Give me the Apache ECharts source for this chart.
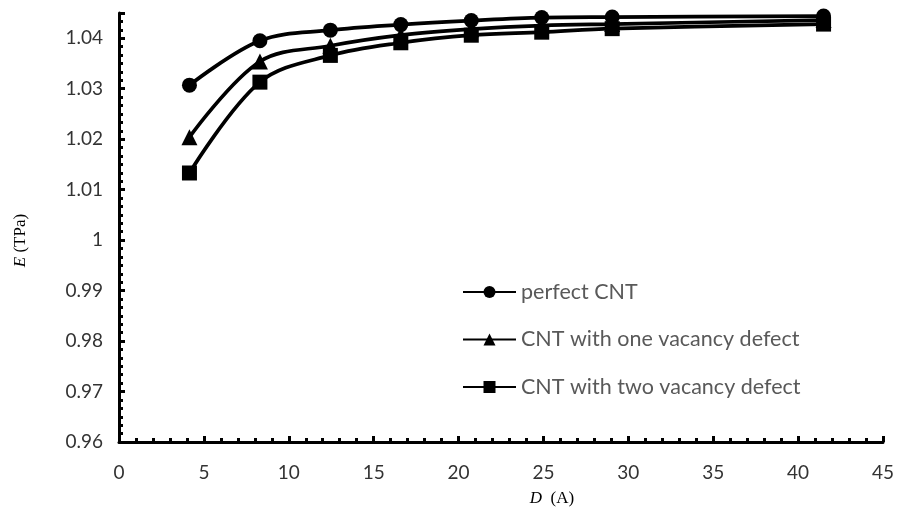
<!DOCTYPE html>
<html>
<head>
<meta charset="utf-8">
<script src="https://cdn.jsdelivr.net/npm/echarts@6/dist/echarts.min.js"></script>
<style>html,body{margin:0;padding:0;background:#fff}#c{width:897px;height:512px}</style>
</head>
<body>
<div id="c"></div>
<script>
// Data
const diameters = [4.15, 8.3, 12.45, 16.6, 20.75, 24.9, 29.05, 41.5];
const perfectCNT = [1.0307, 1.0395, 1.0416, 1.0427, 1.0435, 1.0441, 1.0442, 1.0444];
const oneVacancy = [1.0204, 1.0354, 1.0385, 1.0406, 1.0418, 1.0425, 1.0428, 1.0436];
const twoVacancy = [1.0133, 1.0313, 1.0366, 1.0391, 1.0406, 1.0412, 1.0419, 1.0428];
const seriesNames = ['perfect CNT', 'CNT with one vacancy defect', 'CNT with two vacancy defect'];
const seriesSymbols = ['circle', 'triangle', 'rect'];
const seriesValues = [perfectCNT, oneVacancy, twoVacancy];

const chart = echarts.init(document.getElementById('c'), null, {renderer: 'canvas'});
const font = 'Lato, "Open Sans", sans-serif';
const serif = '"Liberation Serif", "DejaVu Serif", serif';

const series = seriesNames.map((name, k) => ({
  name: name,
  type: 'line',
  smooth: 0.35,
  symbol: seriesSymbols[k],
  symbolSize: k === 1 ? 16 : 15,
  showAllSymbol: true,
  lineStyle: {color: '#000', width: 3.7},
  itemStyle: {color: '#000', borderWidth: 0},
  emphasis: {disabled: true},
  data: diameters.map((d, i) => [d, seriesValues[k][i]])
}));

chart.setOption({
  animation: false,
  backgroundColor: '#fff',
  grid: {left: 119, right: 12, top: 13, bottom: 66},
  legend: {
    orient: 'vertical',
    left: 462,
    top: 281,
    padding: 0,
    itemWidth: 53,
    itemHeight: 15,
    itemGap: 25.5,
    textStyle: {fontFamily: font, fontSize: 21.5, color: '#595959', lineHeight: 22},
    data: seriesNames
  },
  xAxis: {
    type: 'value',
    min: 0, max: 45, interval: 5,
    name: '{i|D}  (A)',
    nameLocation: 'middle',
    nameGap: 48,
    nameTextStyle: {
      fontFamily: serif, fontSize: 17, color: '#000', padding: [0, 0, 0, 102],
      rich: {i: {fontFamily: serif, fontSize: 17, fontStyle: 'italic', color: '#000'}}
    },
    axisLine: {show: true, onZero: false, lineStyle: {color: '#000', width: 3}},
    axisTick: {show: true, inside: true, length: 6, lineStyle: {color: '#000', width: 3}},
    minorTick: {show: true, splitNumber: 5, length: 4, lineStyle: {color: '#000', width: 3}},
    splitLine: {show: false},
    minorSplitLine: {show: false},
    axisLabel: {fontFamily: font, fontSize: 19, color: '#333', margin: 21}
  },
  yAxis: {
    type: 'value',
    min: 0.96, max: 1.045, interval: 0.01,
    name: '{i|E} (TPa)',
    nameLocation: 'middle',
    nameGap: 90,
    nameRotate: 90,
    nameTextStyle: {
      fontFamily: serif, fontSize: 17, color: '#000', padding: [0, 26, 0, 0],
      rich: {i: {fontFamily: serif, fontSize: 17, fontStyle: 'italic', color: '#000'}}
    },
    axisLine: {show: true, onZero: false, lineStyle: {color: '#000', width: 3}},
    axisTick: {show: true, inside: true, length: 6, lineStyle: {color: '#000', width: 3}},
    minorTick: {show: true, splitNumber: 6, length: 4, lineStyle: {color: '#000', width: 3}},
    splitLine: {show: false},
    minorSplitLine: {show: false},
    axisLabel: {
      fontFamily: font, fontSize: 19, color: '#333', margin: 16,
      formatter: function (v) {
        const r = Math.round(v * 100) / 100;
        if (Math.abs(r - v) > 1e-9) return '';
        return String(r);
      }
    }
  },
  series: series
});
</script>
</body>
</html>
